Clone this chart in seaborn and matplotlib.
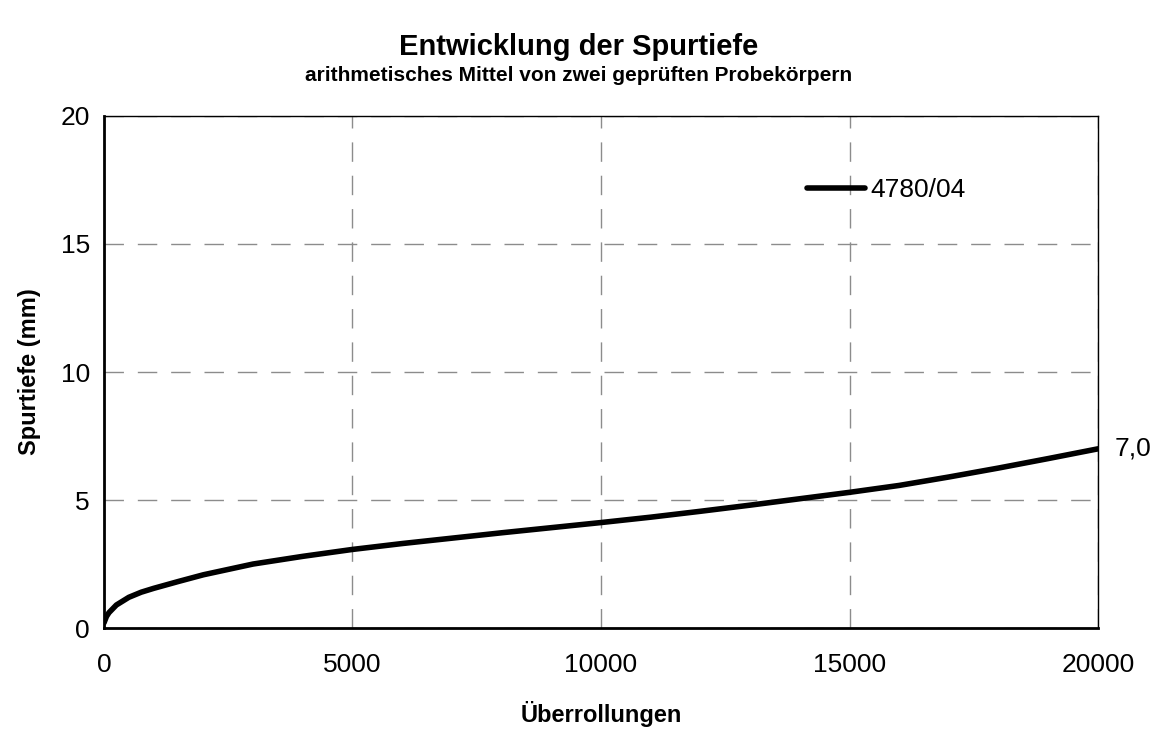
import pandas as pd
import matplotlib
matplotlib.use("Agg")
import matplotlib.pyplot as plt
import seaborn as sns

# --- DATA ---
ueberrollungen = [0, 50, 100, 250, 500, 750, 1000, 1500, 2000, 3000, 4000, 5000,
                  6000, 7000, 8000, 9000, 10000, 11000, 12000, 13000, 14000,
                  15000, 16000, 17000, 18000, 19000, 20000]
spurtiefe = [0.2, 0.45, 0.6, 0.9, 1.2, 1.4, 1.55, 1.82, 2.08, 2.5, 2.8, 3.07,
             3.3, 3.51, 3.72, 3.92, 4.12, 4.33, 4.56, 4.8, 5.05, 5.3, 5.57, 5.9,
             6.25, 6.62, 7.0]
serie = "4780/04"
x_ticks = [0, 5000, 10000, 15000, 20000]
y_ticks = [0, 5, 10, 15, 20]

df = pd.DataFrame({"Überrollungen": ueberrollungen, "Spurtiefe": spurtiefe})

sns.set_style("white")
plt.rcParams["font.family"] = ["Liberation Sans", "DejaVu Sans"]
plt.rcParams["text.color"] = "black"
plt.rcParams["axes.labelcolor"] = "black"

fig = plt.figure(figsize=(11.59, 7.29), dpi=100)
ax = fig.add_axes([0.0897, 0.1385, 0.8577, 0.7024])

sns.lineplot(data=df, x="Überrollungen", y="Spurtiefe", ax=ax, color="black",
             linewidth=4, label=serie)

# --- ACHSEN ---
ax.set_xlim(0, 20000)
ax.set_ylim(0, 20)
ax.set_xticks(x_ticks)
ax.set_yticks(y_ticks)
ax.set_xticklabels([str(t) for t in x_ticks], fontsize=19)
ax.set_yticklabels([str(t) for t in y_ticks], fontsize=19)
ax.tick_params(axis="y", direction="in", length=4, width=1, pad=10, colors="black")
ax.tick_params(axis="x", direction="in", length=4, width=1, pad=18, colors="black")
ax.grid(True, color="#8c8c8c", linewidth=1, linestyle=(0, (14, 10)))
for s in ["top", "right"]:
    ax.spines[s].set_linewidth(1)
    ax.spines[s].set_color("black")
for s in ["left", "bottom"]:
    ax.spines[s].set_linewidth(2)
    ax.spines[s].set_color("black")

ax.set_xlabel("Überrollungen", fontsize=17, fontweight="bold", labelpad=17)
ax.set_ylabel("Spurtiefe (mm)", fontsize=17, fontweight="bold", labelpad=14)

# --- TITEL ---
fig.text(0.499, 0.936, "Entwicklung der Spurtiefe", ha="center", va="center",
         fontsize=21, fontweight="bold")
fig.text(0.499, 0.896, "arithmetisches Mittel von zwei geprüften Probekörpern",
         ha="center", va="center", fontsize=15, fontweight="bold")

# --- ENDWERT ---
ax.annotate("7,0", xy=(ueberrollungen[-1], spurtiefe[-1]), xytext=(12, 0),
            textcoords="offset points", fontsize=19, va="center", ha="left",
            annotation_clip=False)

# --- LEGENDE ---
leg = ax.legend(loc="upper left", bbox_to_anchor=(0.683, 0.925), frameon=False,
                fontsize=19, handlelength=2.2, handletextpad=0.2)

fig.savefig("out.png", dpi=100, facecolor="white")
